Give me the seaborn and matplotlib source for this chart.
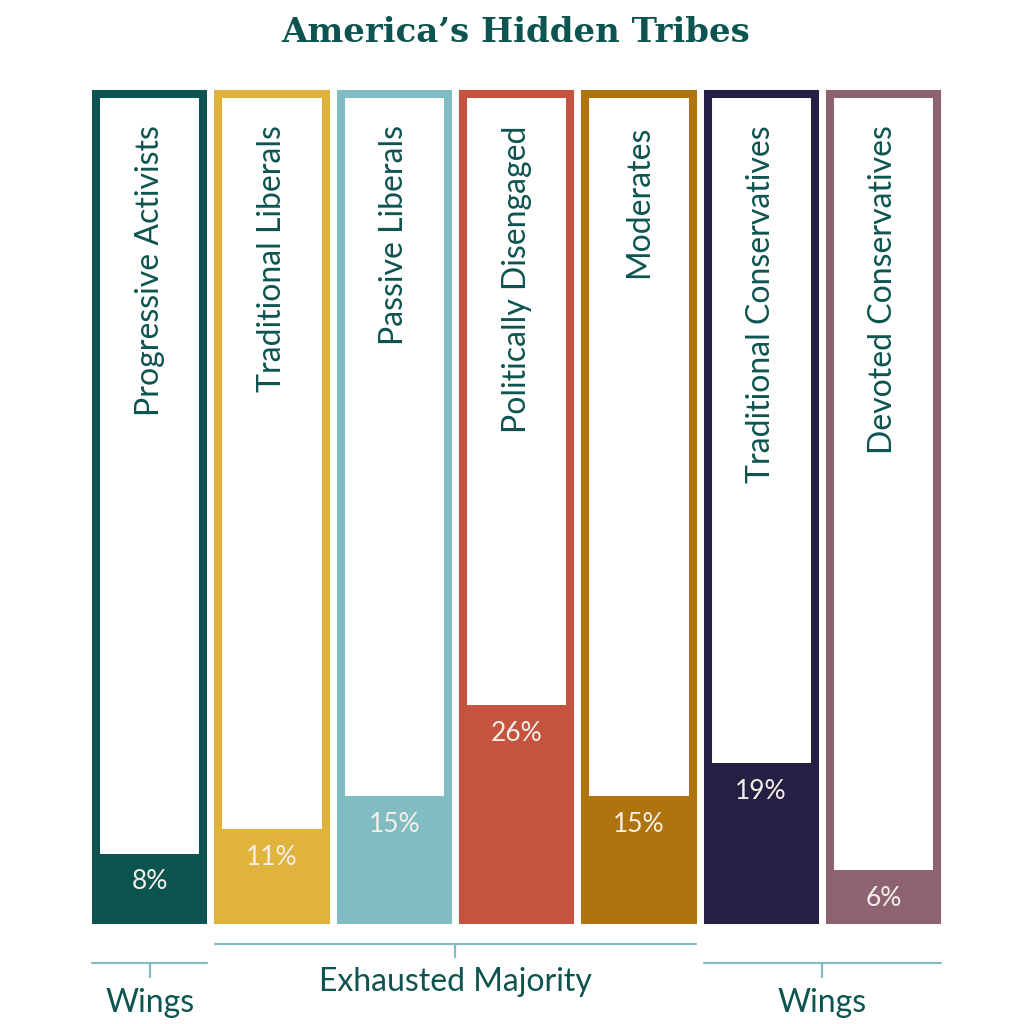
import matplotlib
matplotlib.use("Agg")
import matplotlib.pyplot as plt
import seaborn as sns

tribes = ["Progressive Activists", "Traditional Liberals", "Passive Liberals",
          "Politically Disengaged", "Moderates", "Traditional Conservatives",
          "Devoted Conservatives"]
shares = [8, 11, 15, 26, 15, 19, 6]
colors = ["#0d5450", "#e0b33c", "#80bcc2", "#c4533f", "#b0740f", "#261f44", "#8d6272"]
groups = [("Wings", 0, 0), ("Exhausted Majority", 1, 4), ("Wings", 5, 6)]

teal = "#0d5450"
line_col = "#80bcc2"

sns.set_style("white")
plt.rcParams["font.family"] = ["Lato", "DejaVu Sans"]

fig = plt.figure(figsize=(10.24, 10.24), dpi=100)
ax = fig.add_axes([0.0865, 0.1016, 0.836, 0.8066])

# outlines: full-height bars, white inside
sns.barplot(x=tribes, y=[100] * len(tribes), hue=tribes, palette=colors,
            legend=False, width=0.877, linewidth=0, ax=ax)
for p, c in zip(ax.patches, colors):
    p.set_facecolor("white")
    p.set_edgecolor(c)
    p.set_linewidth(5.8)
    p.set_clip_on(False)
n_out = len(ax.patches)

# filled share at the bottom
sns.barplot(x=tribes, y=shares, hue=tribes, palette=colors, legend=False,
            width=0.877, linewidth=0, saturation=1, ax=ax)
for p in ax.patches[n_out:]:
    p.set_clip_on(False)

ax.set_xlim(-0.5, len(tribes) - 0.5)
ax.set_ylim(0, 100)
ax.axis("off")

for i, (name, v) in enumerate(zip(tribes, shares)):
    ax.text(i, 96.2, name, rotation=90, ha="center", va="top",
            fontsize=23, color=teal)
    ax.text(i, v - 3.4, f"{v}%", ha="center", va="center",
            fontsize=19, color="#f4efe6")

half = 0.468
for label, a, b in groups:
    if label == "Wings":
        ly, ty, txt_y = -5.2, -6.9, -10.0
    else:
        ly, ty, txt_y = -2.9, -4.5, -7.5
    mid = (a + b) / 2
    ax.plot([a - half, b + half], [ly, ly], color=line_col, lw=1.6, clip_on=False)
    ax.plot([mid, mid], [ly, ty], color=line_col, lw=1.6, clip_on=False)
    ax.text(mid, txt_y, label, ha="center", va="center", fontsize=23, color=teal)

fig.text(0.504, 0.968, "America\u2019s Hidden Tribes", ha="center", va="center",
         fontsize=24.5, fontweight="bold", color=teal, family="DejaVu Serif")

fig.savefig("out.png", dpi=100, facecolor="white")
